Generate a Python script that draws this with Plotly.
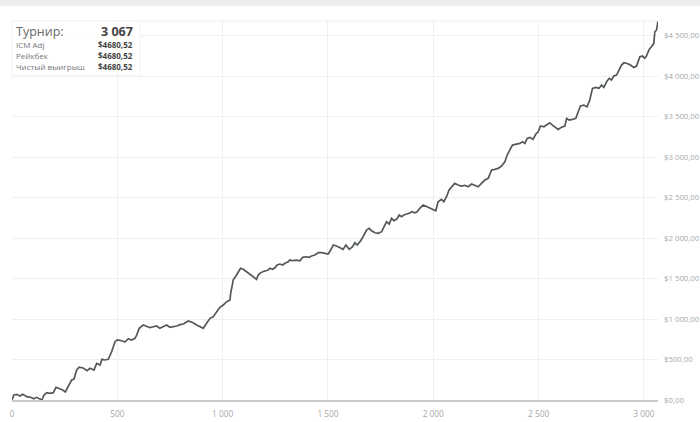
import plotly.graph_objects as go

# Tournament index and cumulative winnings ($)
tournaments = [0, 9, 22, 38, 51, 70, 89, 104, 117, 130, 142, 152, 165, 180, 196, 209, 224, 241, 253, 269,
               283, 294, 307, 319, 338, 357, 370, 389, 402, 418, 427, 441, 457, 473, 489, 500, 521, 536, 552, 568,
               584, 592, 604, 623, 639, 655, 671, 687, 702, 718, 734, 750, 766, 782, 797, 813, 837, 860, 877, 892,
               908, 924, 940, 955, 972, 987, 1003, 1019, 1035, 1038, 1046, 1050, 1063, 1074, 1085, 1098, 1114, 1130,
               1145, 1161, 1169, 1177, 1190, 1201, 1216, 1224, 1237, 1248, 1259, 1272, 1285, 1296, 1311, 1319, 1332,
               1351, 1367, 1380, 1395, 1411, 1422, 1438, 1454, 1470, 1486, 1501, 1513, 1525, 1541, 1557, 1572, 1585,
               1601, 1617, 1628, 1639, 1652, 1667, 1683, 1696, 1707, 1723, 1738, 1755, 1766, 1778, 1791, 1802, 1813,
               1826, 1838, 1850, 1860, 1873, 1886, 1897, 1913, 1924, 1936, 1952, 1968, 1984, 2000, 2012, 2023, 2039,
               2050, 2063, 2075, 2087, 2102, 2118, 2134, 2150, 2166, 2182, 2197, 2213, 2229, 2245, 2261, 2269, 2277,
               2292, 2308, 2324, 2340, 2351, 2364, 2376, 2395, 2411, 2424, 2435, 2446, 2458, 2474, 2487, 2498, 2509,
               2525, 2538, 2553, 2566, 2577, 2593, 2609, 2625, 2633, 2645, 2661, 2677, 2688, 2699, 2715, 2730, 2743,
               2756, 2772, 2787, 2799, 2810, 2823, 2835, 2846, 2857, 2870, 2882, 2894, 2905, 2921, 2936, 2952, 2965,
               2977, 2981, 2993, 3004, 3012, 3025, 3036, 3047, 3052, 3060, 3067]
winnings = [0, 62, 70, 49, 70, 41, 33, 16, 33, 12, 0, 62, 90, 83, 90, 157, 144, 123, 99, 173,
            247, 256, 370, 404, 395, 362, 391, 370, 453, 432, 502, 494, 502, 596, 720, 741, 732, 716, 757, 741,
            762, 802, 885, 926, 905, 893, 905, 914, 885, 905, 926, 898, 905, 914, 930, 938, 975, 954, 926, 905,
            885, 947, 1009, 1028, 1090, 1144, 1173, 1214, 1235, 1317, 1420, 1481, 1531, 1584, 1626, 1614, 1584, 1556,
            1522, 1490, 1543, 1564, 1584, 1596, 1605, 1626, 1614, 1633, 1667, 1679, 1667, 1688, 1707, 1728, 1720,
            1728, 1720, 1762, 1769, 1762, 1778, 1790, 1819, 1819, 1811, 1802, 1852, 1914, 1901, 1880, 1860, 1914,
            1860, 1893, 1942, 1914, 1954, 2016, 2099, 2120, 2090, 2065, 2058, 2078, 2140, 2201, 2173, 2243, 2214,
            2231, 2284, 2263, 2284, 2293, 2305, 2325, 2312, 2325, 2367, 2407, 2386, 2367, 2346, 2337, 2448, 2478,
            2448, 2510, 2593, 2633, 2675, 2654, 2642, 2651, 2633, 2667, 2651, 2633, 2675, 2716, 2737, 2799, 2840,
            2848, 2860, 2889, 2942, 3025, 3086, 3148, 3160, 3169, 3189, 3169, 3231, 3243, 3219, 3284, 3312, 3383,
            3374, 3395, 3423, 3395, 3374, 3342, 3367, 3383, 3478, 3457, 3465, 3478, 3559, 3630, 3642, 3621, 3704,
            3848, 3860, 3848, 3889, 3860, 3930, 3972, 3951, 4000, 4012, 4074, 4136, 4164, 4156, 4136, 4107, 4123,
            4198, 4238, 4247, 4219, 4247, 4330, 4362, 4404, 4547, 4568, 4680.52]

x_ticks = [0, 500, 1000, 1500, 2000, 2500, 3000]
x_tick_labels = ["0", "500", "1 000", "1 500", "2 000", "2 500", "3 000"]
y_ticks = [0, 500, 1000, 1500, 2000, 2500, 3000, 3500, 4000, 4500]
y_tick_labels = ["$0,00", "$500,00", "$1 000,00", "$1 500,00", "$2 000,00", "$2 500,00",
                 "$3 000,00", "$3 500,00", "$4 000,00", "$4 500,00"]

info_labels = ["ICM Adj", "Рейкбек", "Чистый выигрыш"]
info_values = ["$4680,52", "$4680,52", "$4680,52"]
tournament_count = "3 067"

W, H = 700, 422
L, R, T, B = 12, 42, 21, 22
pw, ph = W - L - R, H - T - B


def px(x):
    return (x - L) / pw


def py(y):
    return (H - B - y) / ph


fig = go.Figure()
fig.add_trace(go.Scatter(x=tournaments, y=winnings, mode="lines",
                         line=dict(color="#535a56", width=1.7), hoverinfo="skip",
                         showlegend=False))

shapes = [
    # grey band at the top of the page
    dict(type="rect", xref="paper", yref="paper", x0=px(0), x1=px(W), y0=py(6), y1=py(0),
         fillcolor="#eeeeee", line=dict(width=0), layer="below"),
    # top border of plot area
    dict(type="line", xref="paper", yref="paper", x0=0, x1=1, y0=1, y1=1,
         line=dict(color="#eeeeee", width=1)),
    # info box
    dict(type="rect", xref="paper", yref="paper", x0=px(12), x1=px(140), y0=py(75), y1=py(21),
         fillcolor="rgba(255,255,255,0.92)", line=dict(color="#f3f3f3", width=1), layer="above"),
]

annotations = [
    dict(text="Турнир:", x=px(14), y=py(31.5), xref="paper", yref="paper", xanchor="left",
         yanchor="middle", showarrow=False, font=dict(family="Open Sans", size=12.5, color="#6a6a6a")),
    dict(text="<b>" + tournament_count + "</b>", x=px(135), y=py(31.5), xref="paper", yref="paper",
         xanchor="right", yanchor="middle", showarrow=False,
         font=dict(family="Open Sans", size=12.5, color="#444444")),
]
for i, (lab, val) in enumerate(zip(info_labels, info_values)):
    yy = 44.3 + i * 10.9
    annotations.append(dict(text=lab, x=px(14), y=py(yy), xref="paper", yref="paper",
                            xanchor="left", yanchor="middle", showarrow=False,
                            font=dict(family="Open Sans", size=8, color="#777777")))
    annotations.append(dict(text="<b>" + val + "</b>", x=px(135), y=py(yy), xref="paper",
                            yref="paper", xanchor="right", yanchor="middle", showarrow=False,
                            font=dict(family="Open Sans", size=8, color="#444444")))

fig.update_layout(
    width=W, height=H,
    margin=dict(l=L, r=R, t=T, b=B, pad=0, autoexpand=False),
    paper_bgcolor="white", plot_bgcolor="white",
    font=dict(family="Open Sans", size=8, color="#a8a8a8"),
    shapes=shapes, annotations=annotations,
    xaxis=dict(range=[0, 3067], tickvals=x_ticks, ticktext=x_tick_labels, automargin=False,
               showgrid=True, gridcolor="#efefef", gridwidth=1, zeroline=False,
               showline=True, linecolor="#c9c9c9", linewidth=2, ticks="",
               ticklabelstandoff=5, tickfont=dict(size=8.3, color="#a8a8a8"), fixedrange=True),
    yaxis=dict(range=[0, 4680], side="right", tickvals=y_ticks, ticktext=y_tick_labels,
               automargin=False,
               showgrid=True, gridcolor="#efefef", gridwidth=1, zeroline=False,
               showline=False, ticks="", ticklabelstandoff=5,
               tickfont=dict(size=7.8, color="#a8a8a8"), fixedrange=True),
)

fig.write_html("out.html", config={"displayModeBar": False},
               post_script="document.body.style.margin='0';document.body.style.overflow='hidden';")
